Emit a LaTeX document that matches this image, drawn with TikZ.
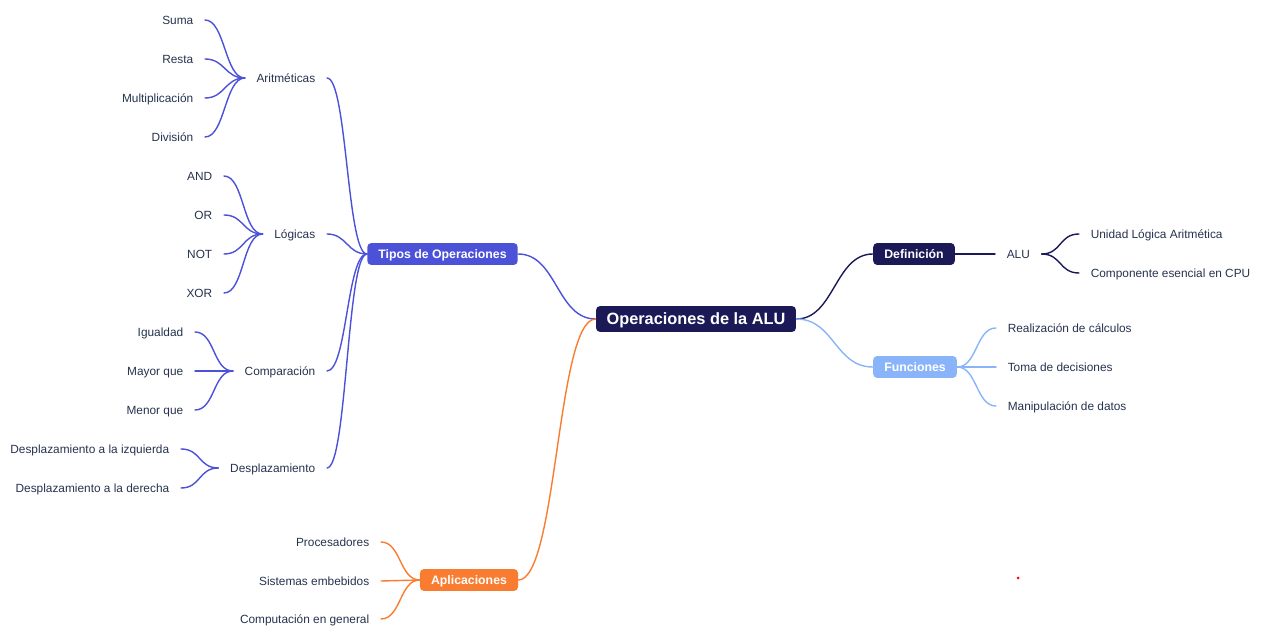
\documentclass[tikz,border=0pt]{standalone}
\usepackage{fontspec}
\setmainfont{Liberation Sans}
\definecolor{navy}{RGB}{27,26,87}
\definecolor{tipos}{RGB}{76,82,216}
\definecolor{func}{RGB}{137,180,250}
\definecolor{apl}{RGB}{250,124,48}
\definecolor{leaftext}{RGB}{38,50,79}
\tikzset{
  leaf/.style={font=\fontsize{6.75}{8}\selectfont, text=leaftext, inner xsep=6.5pt, inner ysep=0pt, text height=4.8pt, text depth=0pt},
  topic/.style={rounded corners=2.3pt, font=\fontsize{7}{8}\selectfont\bfseries, text=white, inner xsep=6.3pt, inner ysep=0pt, minimum height=12.5pt, text height=5pt, text depth=0pt},
  root/.style={topic, fill=navy, font=\fontsize{9.3}{11}\selectfont\bfseries, inner xsep=6pt, minimum height=14.7pt, text height=6.7pt, text depth=0pt},
  tline/.style={draw=tipos, line width=0.8pt},
  dline/.style={draw=navy, line width=0.8pt},
  fline/.style={draw=func, line width=0.8pt},
  aline/.style={draw=apl, line width=0.8pt}
}
\begin{document}
\begin{tikzpicture}[x=0.02cm, y=-0.02cm, line cap=round]
\useasboundingbox (0,0) rectangle (1262,638);
% main topics
\node[root] (main) at (696,319) {Operaciones de la ALU};
\node[topic, fill=tipos] (tipos) at (442.5,254) {Tipos de Operaciones};
\node[topic, fill=navy] (def) at (914,254) {Definición};
\node[topic, fill=func] (func) at (915,367) {Funciones};
\node[topic, fill=apl] (apl) at (469,580) {Aplicaciones};
\draw[tline] (tipos.east) .. controls +(39,0) and +(-39,0) .. (main.west);
\draw[aline] (apl.east) .. controls +(39,0) and +(-39,0) .. (main.west);
\draw[dline] (main.east) .. controls +(38,0) and +(-38,0) .. (def.west);
\draw[fline] (main.east) .. controls +(38,0) and +(-38,0) .. (func.west);
% tipos de operaciones
\foreach \k/\t/\y in {arit/Aritméticas/78, log/Lógicas/234, comp/Comparación/371, desp/Desplazamiento/468}{
  \node[leaf, anchor=east] (\k) at (327,\y) {\t};
  \draw[tline] (\k.east) .. controls +(20,0) and +(-20,0) .. (tipos.west);
}
\foreach \t/\y [count=\i] in {Suma/20, Resta/59, Multiplicación/98, División/137}{
  \node[leaf, anchor=east] (arit\i) at (205,\y) {\t};
  \draw[tline] (arit\i.east) .. controls +(20,0) and +(-20,0) .. (arit.west);
}
\foreach \t/\y [count=\i] in {AND/176, OR/215, NOT/254, XOR/293}{
  \node[leaf, anchor=east] (log\i) at (224,\y) {\t};
  \draw[tline] (log\i.east) .. controls +(20,0) and +(-20,0) .. (log.west);
}
\foreach \t/\y [count=\i] in {Igualdad/332, Mayor que/371, Menor que/410}{
  \node[leaf, anchor=east] (comp\i) at (195,\y) {\t};
  \draw[tline] (comp\i.east) .. controls +(20,0) and +(-20,0) .. (comp.west);
}
\foreach \t/\y [count=\i] in {Desplazamiento a la izquierda/449, Desplazamiento a la derecha/488}{
  \node[leaf, anchor=east] (desp\i) at (181,\y) {\t};
  \draw[tline] (desp\i.east) .. controls +(20,0) and +(-20,0) .. (desp.west);
}
% aplicaciones
\foreach \t/\y [count=\i] in {Procesadores/542, Sistemas embebidos/581, Computación en general/619}{
  \node[leaf, anchor=east] (apl\i) at (381,\y) {\t};
  \draw[aline] (apl\i.east) .. controls +(20,0) and +(-20,0) .. (apl.west);
}
% definicion
\node[leaf, anchor=west] (alu) at (995,254) {ALU};
\draw[dline] (def.east) -- (alu.west);
\foreach \t/\y [count=\i] in {Unidad Lógica Aritmética/234, Componente esencial en CPU/273}{
  \node[leaf, anchor=west] (alu\i) at (1079,\y) {\t};
  \draw[dline] (alu.east) .. controls +(20,0) and +(-20,0) .. (alu\i.west);
}
% funciones
\foreach \t/\y [count=\i] in {Realización de cálculos/328, Toma de decisiones/367, Manipulación de datos/406}{
  \node[leaf, anchor=west] (func\i) at (996,\y) {\t};
  \draw[fline] (func.east) .. controls +(20,0) and +(-20,0) .. (func\i.west);
}
\fill[red] (1018,578) circle (1.5);
\end{tikzpicture}
\end{document}
